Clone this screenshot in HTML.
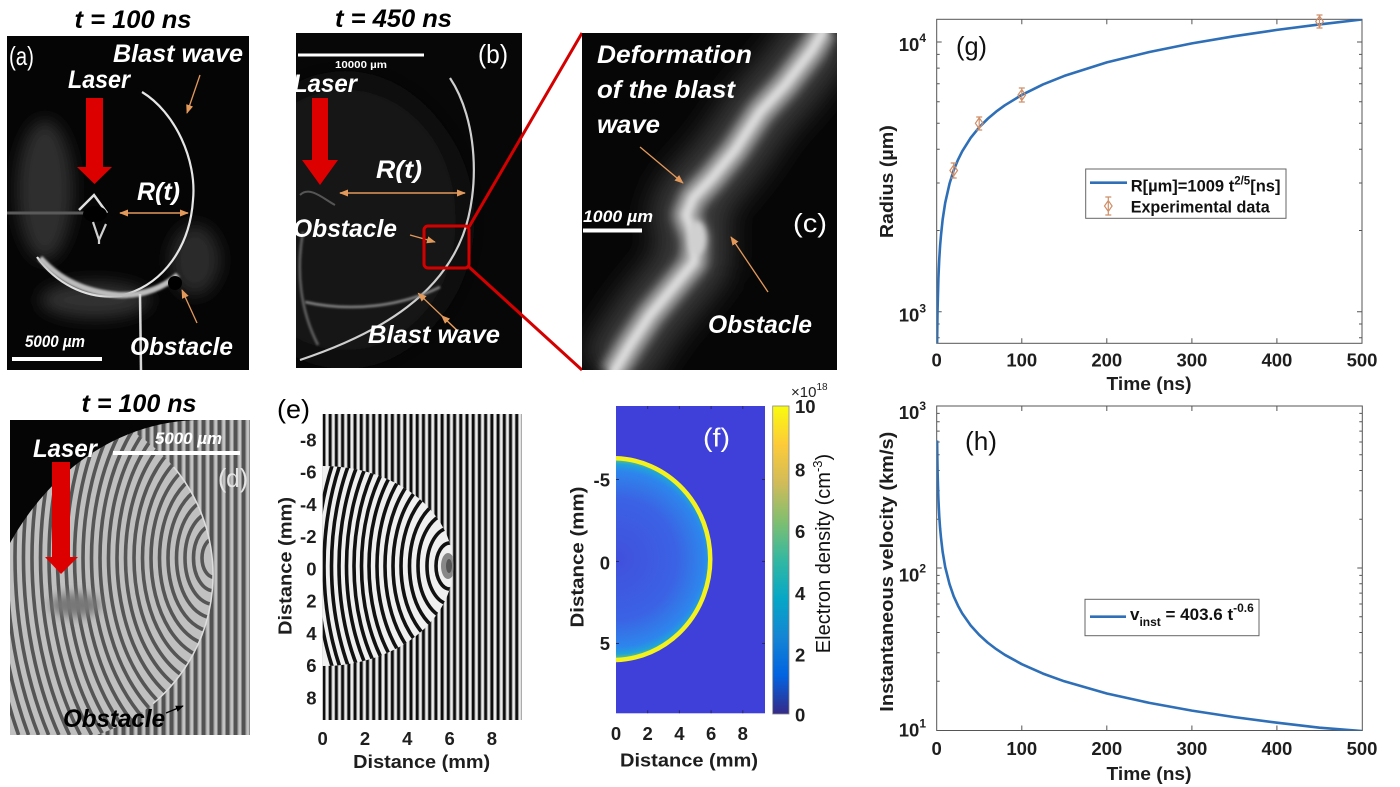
<!DOCTYPE html>
<html><head><meta charset="utf-8"><title>Blast wave figure</title>
<style>
html,body{margin:0;padding:0;background:#fff;width:1400px;height:787px;overflow:hidden}
svg{display:block}
text{font-family:"Liberation Sans",Arial,sans-serif}
.t{font-size:18.5px;font-weight:bold;fill:#1e1e1e}
.w{font-weight:bold;font-style:italic;fill:#fff;font-size:25px}
.ttl{font-weight:bold;font-style:italic;fill:#000;font-size:25px}
.lb{font-size:26px;fill:#fff}
</style></head><body>
<svg width="1400" height="787" viewBox="0 0 1400 787" xmlns="http://www.w3.org/2000/svg">
<defs>
 <filter id="b1" x="-50%" y="-50%" width="200%" height="200%"><feGaussianBlur stdDeviation="1"/></filter>
 <filter id="b3" x="-50%" y="-50%" width="200%" height="200%"><feGaussianBlur stdDeviation="3"/></filter>
 <filter id="b5" x="-50%" y="-50%" width="200%" height="200%"><feGaussianBlur stdDeviation="5"/></filter>
 <filter id="b8" x="-50%" y="-50%" width="200%" height="200%"><feGaussianBlur stdDeviation="8"/></filter>
 <filter id="b14" x="-50%" y="-50%" width="200%" height="200%"><feGaussianBlur stdDeviation="14"/></filter>
 <marker id="ao" viewBox="0 0 10 10" refX="9" refY="5" markerWidth="9" markerHeight="9" markerUnits="userSpaceOnUse" orient="auto-start-reverse"><path d="M0 1 L10 5 L0 9z" fill="#e3995a"/></marker>
 <marker id="ak" viewBox="0 0 10 10" refX="9" refY="5" markerWidth="8" markerHeight="8" markerUnits="userSpaceOnUse" orient="auto"><path d="M0 1 L10 5 L0 9z" fill="#000"/></marker>
 <pattern id="stE" x="322.7" y="0" width="6.22" height="10" patternUnits="userSpaceOnUse">
   <rect width="6.22" height="10" fill="#ececec"/>
   <rect x="0" width="2.5" height="10" fill="#0d0d0d"/>
   <rect x="2.5" width="0.7" height="10" fill="#777"/>
   <rect x="5.5" width="0.72" height="10" fill="#888"/>
 </pattern>
 <pattern id="stD" x="10" y="0" width="8" height="10" patternUnits="userSpaceOnUse">
   <rect width="8" height="10" fill="#c2c2c2"/>
   <rect x="0" width="3.4" height="10" fill="#525252"/>
   <rect x="3.4" width="1" height="10" fill="#8a8a8a"/>
   <rect x="7" width="1" height="10" fill="#8a8a8a"/>
 </pattern>
 <clipPath id="cA"><rect x="7" y="36" width="242" height="334"/></clipPath>
 <clipPath id="cB"><rect x="296" y="33" width="226" height="335"/></clipPath>
 <clipPath id="cC"><rect x="582" y="33" width="255" height="337"/></clipPath>
 <clipPath id="cD"><rect x="10" y="420" width="240" height="315"/></clipPath>
 <clipPath id="cDc"><circle cx="45" cy="575" r="168"/></clipPath>
 <clipPath id="cE"><path d="M322.7 466 A130.5 100 0 0 1 322.7 666 Z"/></clipPath>
 <clipPath id="cG"><rect x="936.7" y="19.3" width="425.3" height="324"/></clipPath>
 <clipPath id="cH"><rect x="936.7" y="406" width="425.6" height="324.5"/></clipPath>
 <radialGradient id="rgF" gradientUnits="userSpaceOnUse" cx="616" cy="559" r="100">
   <stop offset="0" stop-color="#4150dc"/>
   <stop offset="0.6" stop-color="#3b62e4"/>
   <stop offset="0.88" stop-color="#2d86ec"/>
   <stop offset="0.95" stop-color="#21a3d9"/>
   <stop offset="1" stop-color="#6cc46b"/>
 </radialGradient>
 <linearGradient id="par" x1="0" y1="1" x2="0" y2="0">
   <stop offset="0" stop-color="#352a87"/>
   <stop offset="0.125" stop-color="#0363e1"/>
   <stop offset="0.25" stop-color="#1485d4"/>
   <stop offset="0.375" stop-color="#06a7c6"/>
   <stop offset="0.5" stop-color="#33b8a1"/>
   <stop offset="0.625" stop-color="#7fbf6f"/>
   <stop offset="0.75" stop-color="#d1bb59"/>
   <stop offset="0.875" stop-color="#fdcb38"/>
   <stop offset="1" stop-color="#f9fb0e"/>
 </linearGradient>
</defs>

<!-- ================= Panel (a) ================= -->
<text class="ttl" x="133" y="28" text-anchor="middle" textLength="117" lengthAdjust="spacingAndGlyphs">t = 100 ns</text>
<rect x="7" y="36" width="242" height="334" fill="#050505"/>
<g clip-path="url(#cA)">
 <ellipse cx="45" cy="190" rx="28" ry="70" fill="#2e2e2e" filter="url(#b8)"/>
 <ellipse cx="195" cy="260" rx="25" ry="35" fill="#2c2c2c" filter="url(#b8)"/>
 <ellipse cx="95" cy="300" rx="55" ry="18" fill="#333" filter="url(#b8)"/>
 <path d="M142 92 C175 112 197 160 193 200 C190 245 165 285 120 296 C85 300 55 282 37 257" stroke="#e6e6e6" stroke-width="2.2" fill="none"/>
 <path d="M40 258 C60 280 85 292 118 295 C140 296 160 290 178 275" stroke="#bdbdbd" stroke-width="6" fill="none" filter="url(#b1)"/>
 <path d="M140 294 L141 370" stroke="#d8d8d8" stroke-width="2.5"/>
 <path d="M7 213 L85 213" stroke="#5a5a5a" stroke-width="3"/>
 <path d="M79 210 L94 195 L107 213" stroke="#e0e0e0" stroke-width="2.5" fill="none"/>
 <ellipse cx="95" cy="214" rx="12" ry="8" fill="#000"/>
 <path d="M93 222 L99 240 L106 224 M99 240 L99 244" stroke="#d0d0d0" stroke-width="2.2" fill="none"/>
 <circle cx="175" cy="283" r="7" fill="#000"/>
</g>
<text class="lb" x="9" y="65" textLength="25" lengthAdjust="spacingAndGlyphs">(a)</text>
<text class="w" x="113" y="62" textLength="130" lengthAdjust="spacingAndGlyphs">Blast wave</text>
<text class="w" x="68" y="88" textLength="62" lengthAdjust="spacingAndGlyphs">Laser</text>
<polygon points="86,98 103,98 103,167 112,167 94.5,184 77,167 86,167" fill="#dd0000"/>
<text class="w" x="137" y="200" textLength="43" lengthAdjust="spacingAndGlyphs">R(t)</text>
<line x1="120" y1="213" x2="188" y2="213" stroke="#e3995a" stroke-width="1.5" marker-start="url(#ao)" marker-end="url(#ao)"/>
<line x1="200" y1="75" x2="187" y2="113" stroke="#e3995a" stroke-width="1.3" marker-end="url(#ao)"/>
<line x1="197" y1="323" x2="182" y2="290" stroke="#e3995a" stroke-width="1.3" marker-end="url(#ao)"/>
<text class="w" x="25" y="347" style="font-size:17px" textLength="60" lengthAdjust="spacingAndGlyphs">5000 µm</text>
<rect x="12" y="357" width="90" height="4" fill="#fff"/>
<text class="w" x="130" y="355" textLength="103" lengthAdjust="spacingAndGlyphs">Obstacle</text>

<!-- ================= Panel (b) ================= -->
<text class="ttl" x="393.5" y="27" text-anchor="middle" textLength="117" lengthAdjust="spacingAndGlyphs">t = 450 ns</text>
<rect x="296" y="33" width="226" height="335" fill="#070707"/>
<g clip-path="url(#cB)">
 <ellipse cx="345" cy="220" rx="120" ry="140" fill="#141414" filter="url(#b14)"/>
 <path d="M450 78 C478 120 480 190 463 235 C442 290 390 330 300 360" stroke="#cfcfcf" stroke-width="2.2" fill="none"/>
 <path d="M305 302 C350 312 400 307 440 287" stroke="#888" stroke-width="2.5" fill="none" filter="url(#b1)"/>
 <path d="M303 232 C296 270 300 310 318 345" stroke="#666" stroke-width="2.5" fill="none" filter="url(#b1)"/>
 <path d="M300 195 C310 185 325 200 335 205" stroke="#555" stroke-width="2" fill="none"/>
</g>
<rect x="298" y="53.5" width="126" height="3" fill="#fff"/>
<text x="335" y="68" style="font-size:10px;font-weight:bold;fill:#fff" textLength="52" lengthAdjust="spacingAndGlyphs">10000 µm</text>
<text class="lb" x="478" y="63" textLength="30" lengthAdjust="spacingAndGlyphs">(b)</text>
<text class="w" x="293" y="92" textLength="64" lengthAdjust="spacingAndGlyphs">Laser</text>
<polygon points="312,98 328,98 328,160 338,160 320,185 302,160 312,160" fill="#dd0000"/>
<text class="w" x="376" y="178" textLength="46" lengthAdjust="spacingAndGlyphs">R(t)</text>
<line x1="340" y1="193" x2="465" y2="193" stroke="#e3995a" stroke-width="1.5" marker-start="url(#ao)" marker-end="url(#ao)"/>
<text class="w" x="293" y="237" textLength="104" lengthAdjust="spacingAndGlyphs">Obstacle</text>
<line x1="410" y1="235" x2="435" y2="242" stroke="#e3995a" stroke-width="1.3" marker-end="url(#ao)"/>
<line x1="456.7" y1="330" x2="418.3" y2="293.3" stroke="#e3995a" stroke-width="1.3" marker-end="url(#ao)"/>
<line x1="456.7" y1="330" x2="441.7" y2="315.7" stroke="#e3995a" stroke-width="1.3" marker-end="url(#ao)"/>
<text class="w" x="368" y="343" textLength="132" lengthAdjust="spacingAndGlyphs">Blast wave</text>
<rect x="424" y="226" width="45" height="42" rx="4" fill="none" stroke="#d40000" stroke-width="3"/>
<line x1="469" y1="227" x2="582" y2="33" stroke="#d40000" stroke-width="3"/>
<line x1="469" y1="267" x2="582" y2="370" stroke="#d40000" stroke-width="3"/>

<!-- ================= Panel (c) ================= -->
<rect x="582" y="33" width="255" height="337" fill="#060606"/>
<g clip-path="url(#cC)">
 <path d="M825 28 L812 50 L785 85 L760 112 L735 150 L712 178 L693 198 L686 215 L695 238 L694 262 L675 285 L650 315 L630 345 L612 375" stroke="#3a3a3a" stroke-width="70" fill="none" filter="url(#b14)"/>
 <path d="M825 28 L812 50 L785 85 L760 112 L735 150 L712 178 L693 198 L686 215 L695 238 L694 262 L675 285 L650 315 L630 345 L612 375" stroke="#a8a8a8" stroke-width="26" fill="none" stroke-linejoin="round" filter="url(#b5)"/>
 <path d="M825 28 L812 50 L785 85 L760 112 L735 150 L712 178 L693 198 L686 215 L695 238 L694 262 L675 285 L650 315 L630 345 L612 375" stroke="#dcdcdc" stroke-width="9" fill="none" stroke-linejoin="round" filter="url(#b3)"/>
 <ellipse cx="697" cy="238" rx="9" ry="17" fill="#d0d0d0" filter="url(#b3)"/>
</g>
<text class="w" x="597" y="63" textLength="155" lengthAdjust="spacingAndGlyphs">Deformation</text>
<text class="w" x="597" y="98" textLength="138" lengthAdjust="spacingAndGlyphs">of the blast</text>
<text class="w" x="597" y="133" textLength="63" lengthAdjust="spacingAndGlyphs">wave</text>
<line x1="640" y1="147" x2="683" y2="183" stroke="#e3995a" stroke-width="1.3" marker-end="url(#ao)"/>
<text class="w" x="583" y="222" style="font-size:17px" textLength="70" lengthAdjust="spacingAndGlyphs">1000 µm</text>
<rect x="583" y="228.5" width="59" height="4" fill="#fff"/>
<text class="lb" x="793" y="232" textLength="34" lengthAdjust="spacingAndGlyphs">(c)</text>
<line x1="768" y1="292" x2="731" y2="237" stroke="#e3995a" stroke-width="1.3" marker-end="url(#ao)"/>
<text class="w" x="708" y="333" textLength="104" lengthAdjust="spacingAndGlyphs">Obstacle</text>

<!-- ================= Panel (d) ================= -->
<text class="ttl" x="139" y="412" text-anchor="middle" textLength="115" lengthAdjust="spacingAndGlyphs">t = 100 ns</text>
<rect x="10" y="420" width="240" height="315" fill="url(#stD)"/>
<g clip-path="url(#cD)">
 <g clip-path="url(#cDc)">
  <rect x="10" y="405" width="240" height="340" fill="#c0c0c0"/>
  <g fill="none" stroke="#555" stroke-width="3.6">
   <ellipse cx="214" cy="558" rx="12" ry="19.2"/><ellipse cx="214" cy="558" rx="20.5" ry="32.8"/>
   <ellipse cx="214" cy="558" rx="29" ry="46.4"/><ellipse cx="214" cy="558" rx="37.5" ry="60"/>
   <ellipse cx="214" cy="558" rx="46" ry="73.6"/><ellipse cx="214" cy="558" rx="54.5" ry="87.2"/>
   <ellipse cx="214" cy="558" rx="63" ry="100.8"/><ellipse cx="214" cy="558" rx="71.5" ry="114.4"/>
   <ellipse cx="214" cy="558" rx="80" ry="128"/><ellipse cx="214" cy="558" rx="88.5" ry="141.6"/>
   <ellipse cx="214" cy="558" rx="97" ry="155.2"/><ellipse cx="214" cy="558" rx="105.5" ry="168.8"/>
   <ellipse cx="214" cy="558" rx="114" ry="182.4"/><ellipse cx="214" cy="558" rx="122.5" ry="196"/>
   <ellipse cx="214" cy="558" rx="131" ry="209.6"/>
   <path d="M104.4 420 A139.5 223.2 0 0 0 129 735"/>
   <path d="M93.7 420 A148 236.8 0 0 0 115.7 735"/>
   <path d="M83.4 420 A156.5 250.4 0 0 0 103.3 735"/>
   <path d="M73.3 420 A165 264 0 0 0 91.6 735"/>
   <path d="M63.5 420 A173.5 277.6 0 0 0 80.3 735"/>
   <path d="M53.7 420 A182 291.2 0 0 0 69.5 735"/>
   <path d="M44.1 420 A190.5 304.8 0 0 0 58.9 735"/>
   <path d="M34.7 420 A199 318.4 0 0 0 48.6 735"/>
   <path d="M25.3 420 A207.5 332 0 0 0 38.5 735"/>
   <path d="M16 420 A216 345.6 0 0 0 28.5 735"/>
   <path d="M6.7 420 A224.5 359.2 0 0 0 18.6 735"/>
  </g>
  <ellipse cx="75" cy="605" rx="25" ry="12" fill="#777" filter="url(#b5)"/>
 </g>
 <path d="M173.7 467 A168 168 0 0 1 153 703.7" stroke="#ddd" stroke-width="1.5" fill="none"/>
 <path d="M10 420 H200 A230 278 0 0 0 10 543 Z" fill="#050505"/>
</g>
<text class="w" x="33" y="457" textLength="64" lengthAdjust="spacingAndGlyphs">Laser</text>
<polygon points="52,462 70,462 70,557 78,557 61,574 45,557 52,557" fill="#dd0000"/>
<rect x="113" y="451" width="127" height="4" fill="#fff"/>
<text class="w" x="155" y="444" style="font-size:17px" textLength="67" lengthAdjust="spacingAndGlyphs">5000 µm</text>
<text class="lb" x="218" y="487" style="fill:#e4e4e4" textLength="30" lengthAdjust="spacingAndGlyphs">(d)</text>
<text class="ttl" x="63" y="727" textLength="102" lengthAdjust="spacingAndGlyphs">Obstacle</text>
<line x1="166" y1="713" x2="183" y2="706" stroke="#000" stroke-width="1.3" marker-end="url(#ak)"/>

<!-- ================= Panel (e) ================= -->
<text x="277" y="418" style="font-size:26px;fill:#000" textLength="33" lengthAdjust="spacingAndGlyphs">(e)</text>
<rect x="322.7" y="414" width="199" height="306" fill="url(#stE)"/>
<g clip-path="url(#cE)">
 <rect x="322" y="464" width="135" height="204" fill="#f0f0f0"/>
 <g fill="none" stroke="#111" stroke-width="3.6">
  <ellipse cx="450" cy="566" rx="14" ry="23.1"/><ellipse cx="450" cy="566" rx="23" ry="38"/>
  <ellipse cx="450" cy="566" rx="32" ry="52.8"/><ellipse cx="450" cy="566" rx="40.5" ry="66.8"/>
  <ellipse cx="450" cy="566" rx="49" ry="80.9"/><ellipse cx="450" cy="566" rx="57" ry="94"/>
  <ellipse cx="450" cy="566" rx="65" ry="107.3"/><ellipse cx="450" cy="566" rx="73" ry="120.5"/>
  <ellipse cx="450" cy="566" rx="81" ry="133.7"/><ellipse cx="450" cy="566" rx="88.5" ry="146"/>
  <ellipse cx="450" cy="566" rx="96" ry="158.4"/><ellipse cx="450" cy="566" rx="103.5" ry="170.8"/>
  <ellipse cx="450" cy="566" rx="111" ry="183.2"/><ellipse cx="450" cy="566" rx="118.5" ry="195.5"/>
  <ellipse cx="450" cy="566" rx="126" ry="208"/><ellipse cx="450" cy="566" rx="133" ry="217"/>
 </g>
 <ellipse cx="448" cy="566" rx="7" ry="13" fill="#888"/>
 <ellipse cx="449" cy="566" rx="3" ry="7" fill="#555"/>
</g>
<g class="t" text-anchor="end">
 <text x="316.5" y="446.5">-8</text><text x="316.5" y="478.7">-6</text><text x="316.5" y="510.9">-4</text>
 <text x="316.5" y="543.1">-2</text><text x="316.5" y="575.5">0</text><text x="316.5" y="607.7">2</text>
 <text x="316.5" y="639.9">4</text><text x="316.5" y="672.1">6</text><text x="316.5" y="704.3">8</text>
</g>
<g class="t" text-anchor="middle">
 <text x="322.7" y="745">0</text><text x="365" y="745">2</text><text x="407.3" y="745">4</text>
 <text x="449.6" y="745">6</text><text x="491.9" y="745">8</text>
</g>
<text class="t" x="421.7" y="768" text-anchor="middle" textLength="137" lengthAdjust="spacingAndGlyphs">Distance (mm)</text>
<text class="t" transform="translate(291.5,566) rotate(-90)" text-anchor="middle" textLength="138" lengthAdjust="spacingAndGlyphs">Distance (mm)</text>

<!-- ================= Panel (f) ================= -->
<rect x="616" y="406" width="149" height="307.3" fill="#3f40d9"/>
<path d="M616 458.3 A97.3 100.9 0 0 1 616 660 Z" fill="url(#rgF)"/>
<path d="M616 458.3 A97.3 100.9 0 0 1 616 660" fill="none" stroke="#f4f21c" stroke-width="4.5"/>
<g stroke="#2a2a6a" stroke-width="1">
 <path d="M647.7 406v3M679.4 406v3M711.1 406v3M742.8 406v3M647.7 713.3v-3M679.4 713.3v-3M711.1 713.3v-3M742.8 713.3v-3M616 479.5h3M616 561.5h3M616 643.5h3M765 479.5h-3M765 561.5h-3M765 643.5h-3"/>
</g>
<text x="703" y="446.7" style="font-size:26px;fill:#fff" textLength="27" lengthAdjust="spacingAndGlyphs">(f)</text>
<rect x="772.7" y="406" width="16.3" height="308" fill="url(#par)" stroke="#888" stroke-width="0.8"/>
<g class="t">
 <text x="795" y="413">10</text><text x="795" y="476.7">8</text><text x="795" y="538">6</text>
 <text x="795" y="600">4</text><text x="795" y="661.7">2</text><text x="795" y="721.7">0</text>
</g>
<text x="791" y="397" style="font-size:15px;fill:#222">×10<tspan dy="-7" style="font-size:10px">18</tspan></text>
<text transform="translate(830,553.5) rotate(-90)" text-anchor="middle" style="font-size:20px;fill:#111">Electron density (cm<tspan dy="-8" style="font-size:13px">-3</tspan><tspan dy="8">)</tspan></text>
<g class="t" text-anchor="end">
 <text x="610" y="486.5">-5</text><text x="610" y="569.5">0</text><text x="610" y="650">5</text>
</g>
<g class="t" text-anchor="middle">
 <text x="616" y="740">0</text><text x="647.7" y="740">2</text><text x="679.4" y="740">4</text>
 <text x="711.1" y="740">6</text><text x="742.8" y="740">8</text>
</g>
<text class="t" x="689" y="766.7" text-anchor="middle" textLength="138" lengthAdjust="spacingAndGlyphs">Distance (mm)</text>
<text class="t" transform="translate(583.3,557) rotate(-90)" text-anchor="middle" textLength="141" lengthAdjust="spacingAndGlyphs">Distance (mm)</text>

<!-- ================= Panel (g) ================= -->
<rect x="936.7" y="19.3" width="425.3" height="324" fill="#fff" stroke="#555" stroke-width="1"/>
<path stroke="#555" stroke-width="1" fill="none" d="M1021.8 343.3v-5M1106.8 343.3v-5M1191.9 343.3v-5M1276.9 343.3v-5M1021.8 19.3v5M1106.8 19.3v5M1191.9 19.3v5M1276.9 19.3v5
M936.7 42h5M936.7 311.7h5M1362 42h-5M1362 311.7h-5
M936.7 230.5h3M936.7 183h3M936.7 149.3h3M936.7 123.2h3M936.7 101.8h3M936.7 83.8h3M936.7 68.1h3M936.7 54.4h3M936.7 337.8h3M936.7 324h3
M1362 230.5h-3M1362 183h-3M1362 149.3h-3M1362 123.2h-3M1362 101.8h-3M1362 83.8h-3M1362 68.1h-3M1362 54.4h-3M1362 337.8h-3M1362 324h-3"/>
<g clip-path="url(#cG)">
<polyline fill="none" stroke="#2e6fb7" stroke-width="2.6" stroke-linejoin="round" points="937.1,344 937.2,334.6 937.4,321.1 937.55,310.65 938.4,278.2 939.25,259.2 940.1,245.7 941,235.2 942.65,219.5 945.2,202.8 949.5,183.8 953.7,170.3 958,159.8 962.2,151.3 970.7,137.8 979.2,127.3 987.7,118.8 996.2,111.6 1004.8,105.3 1021.8,94.9 1043,84.4 1064.3,75.9 1106.8,62.4 1149.4,52 1191.9,43.4 1234.4,36.2 1277,29.9 1319.5,24.4 1362,19.5"/>
</g>
<g stroke="#cf8f68" stroke-width="1.2" fill="none">
 <path d="M953.7 163v15M950.7 163h6M950.7 178h6M949.9 170.5 L953.7 165 L957.5 170.5 L953.7 176 Z"/>
 <path d="M979.2 117v13M976.2 117h6M976.2 130h6M975.4 123.3 L979.2 117.8 L983 123.3 L979.2 128.8 Z"/>
 <path d="M1021.8 88v14M1018.8 88h6M1018.8 102h6M1018 95 L1021.8 89.5 L1025.6 95 L1021.8 100.5 Z"/>
 <path d="M1319.5 15v13M1316.5 15h6M1316.5 28h6M1315.7 21.5 L1319.5 16 L1323.3 21.5 L1319.5 27 Z"/>
</g>
<text x="956" y="55" style="font-size:26px;fill:#111" textLength="31" lengthAdjust="spacingAndGlyphs">(g)</text>
<rect x="1085.7" y="169" width="200.3" height="49.3" fill="#fff" stroke="#666" stroke-width="1"/>
<line x1="1090" y1="182.7" x2="1127" y2="182.7" stroke="#2e6fb7" stroke-width="2.6"/>
<text x="1130.7" y="191.7" style="font-size:16.5px;font-weight:bold;fill:#111">R[µm]=1009 t<tspan dy="-7" style="font-size:11.5px">2/5</tspan><tspan dy="7">[ns]</tspan></text>
<path stroke="#cf8f68" stroke-width="1.2" fill="none" d="M1108.3 197v18M1105.3 197h6M1105.3 215h6M1104.5 206 L1108.3 200.5 L1112.1 206 L1108.3 211.5 Z"/>
<text x="1130.7" y="212.3" style="font-size:16.5px;font-weight:bold;fill:#111" textLength="139" lengthAdjust="spacingAndGlyphs">Experimental data</text>
<g class="t" text-anchor="end">
 <text x="926" y="51">10<tspan dy="-9" style="font-size:12px">4</tspan></text>
 <text x="926" y="321.5">10<tspan dy="-9" style="font-size:12px">3</tspan></text>
</g>
<g class="t" text-anchor="middle">
 <text x="936.7" y="366.7">0</text><text x="1021.8" y="366.7">100</text><text x="1106.8" y="366.7">200</text>
 <text x="1191.9" y="366.7">300</text><text x="1276.9" y="366.7">400</text><text x="1362" y="366.7">500</text>
</g>
<text class="t" x="1149" y="390" text-anchor="middle" textLength="85" lengthAdjust="spacingAndGlyphs">Time (ns)</text>
<text class="t" transform="translate(893,181.7) rotate(-90)" text-anchor="middle" textLength="113" lengthAdjust="spacingAndGlyphs">Radius (µm)</text>

<!-- ================= Panel (h) ================= -->
<rect x="936.7" y="406" width="425.6" height="324.5" fill="#fff" stroke="#555" stroke-width="1"/>
<path stroke="#555" stroke-width="1" fill="none" d="M1021.8 730.5v-5M1106.8 730.5v-5M1191.9 730.5v-5M1276.9 730.5v-5M1021.8 406v5M1106.8 406v5M1191.9 406v5M1276.9 406v5
M936.7 568h5M1362.3 568h-5
M936.7 681.2h3M936.7 652.7h3M936.7 632.5h3M936.7 616.8h3M936.7 604h3M936.7 593.1h3M936.7 583.7h3M936.7 575.4h3M936.7 519.2h3M936.7 490.7h3M936.7 470.5h3M936.7 454.8h3M936.7 442h3M936.7 431.1h3M936.7 421.7h3M936.7 413.4h3
M1362.3 681.2h-3M1362.3 652.7h-3M1362.3 632.5h-3M1362.3 616.8h-3M1362.3 604h-3M1362.3 593.1h-3M1362.3 583.7h-3M1362.3 575.4h-3M1362.3 519.2h-3M1362.3 490.7h-3M1362.3 470.5h-3M1362.3 454.8h-3M1362.3 442h-3M1362.3 431.1h-3M1362.3 421.7h-3M1362.3 413.4h-3"/>
<g clip-path="url(#cH)">
<polyline fill="none" stroke="#2e6fb7" stroke-width="2.6" stroke-linejoin="round" points="937.1,440.5 937.3,454.7 937.55,469.8 938,486.9 938.4,499.1 939.25,516.2 940.1,528.3 941,537.7 942.65,551.9 945.2,567 949.5,584.1 953.7,596.3 958,605.7 962.2,613.4 970.7,625.5 979.2,634.9 987.7,642.6 996.2,649.1 1004.8,654.8 1021.8,664.2 1043,673.6 1064.3,681.3 1106.8,693.5 1149.4,702.9 1191.9,710.6 1234.4,717.1 1277,722.7 1319.5,727.7 1362,731"/>
</g>
<text x="965" y="450" style="font-size:26px;fill:#111" textLength="32" lengthAdjust="spacingAndGlyphs">(h)</text>
<rect x="1085" y="599.3" width="174" height="36.4" fill="#fff" stroke="#666" stroke-width="1"/>
<line x1="1090" y1="616.7" x2="1126" y2="616.7" stroke="#2e6fb7" stroke-width="2.6"/>
<text x="1130" y="620" style="font-size:17px;font-weight:bold;fill:#111">v<tspan dy="6" style="font-size:12px">inst</tspan><tspan dy="-6"> = 403.6 t</tspan><tspan dy="-8" style="font-size:12px">-0.6</tspan></text>
<g class="t" text-anchor="end">
 <text x="926" y="419">10<tspan dy="-9" style="font-size:12px">3</tspan></text>
 <text x="926" y="581.5">10<tspan dy="-9" style="font-size:12px">2</tspan></text>
 <text x="926" y="736.5">10<tspan dy="-9" style="font-size:12px">1</tspan></text>
</g>
<g class="t" text-anchor="middle">
 <text x="936.7" y="755">0</text><text x="1021.8" y="755">100</text><text x="1106.8" y="755">200</text>
 <text x="1191.9" y="755">300</text><text x="1276.9" y="755">400</text><text x="1362" y="755">500</text>
</g>
<text class="t" x="1149" y="780" text-anchor="middle" textLength="85" lengthAdjust="spacingAndGlyphs">Time (ns)</text>
<text class="t" transform="translate(893,571.7) rotate(-90)" text-anchor="middle" textLength="280" lengthAdjust="spacingAndGlyphs">Instantaneous velocity (km/s)</text>
</svg>
</body></html>
